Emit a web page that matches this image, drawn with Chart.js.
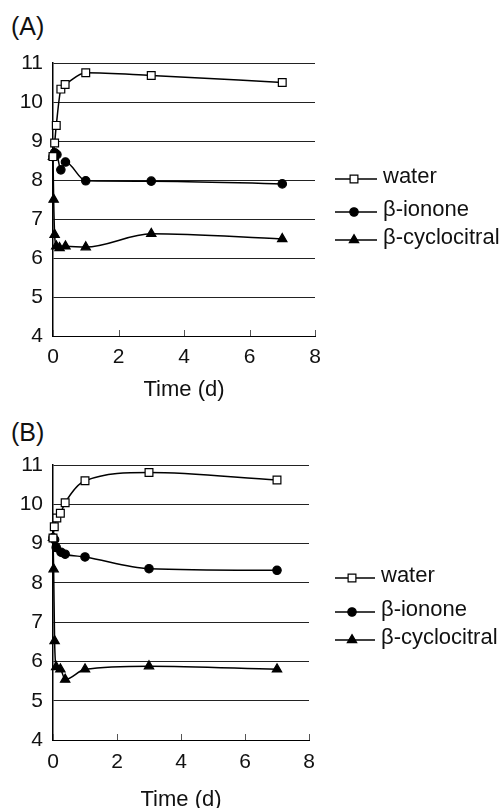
<!DOCTYPE html>
<html>
<head>
<meta charset="utf-8">
<script src="https://cdn.jsdelivr.net/npm/chart.js@4.4.0/dist/chart.umd.min.js"></script>
<style>
  body { margin: 0; background: #fff; width: 502px; height: 808px; position: relative; overflow: hidden;
         font-family: "Liberation Sans", Arial, sans-serif; }
  .panel { position: absolute; left: 11px; font-size: 25px; line-height: 25px; color: #111; }
  canvas { position: absolute; left: 0; }
</style>
</head>
<body>
<div class="panel" style="top:14px">(A)</div>
<div class="panel" style="top:420px">(B)</div>
<canvas id="chartA" width="502" height="405" style="top:0"></canvas>
<canvas id="chartB" width="502" height="408" style="top:400px"></canvas>
<script>
const seriesNames = ["water", "β-ionone", "β-cyclocitral"];
const xTicks = [0, 2, 4, 6, 8];
const yTicks = [4, 5, 6, 7, 8, 9, 10, 11];
const xTitle = "Time (d)";

// (A)
const timeA_water  = [0, 0.05, 0.1, 0.24, 0.37, 1, 3, 7];
const waterA       = [8.6, 8.95, 9.4, 10.33, 10.45, 10.75, 10.68, 10.5];
const timeA_ionone = [0, 0.05, 0.12, 0.24, 0.38, 1, 3, 7];
const iononeA      = [8.6, 8.7, 8.65, 8.26, 8.46, 7.98, 7.97, 7.9];
const timeA_cyclo  = [0, 0.02, 0.05, 0.1, 0.2, 0.38, 1, 3, 7];
const cycloA       = [8.6, 7.5, 6.6, 6.3, 6.26, 6.3, 6.28, 6.62, 6.49];

// (B)
const timeB_water  = [0, 0.04, 0.12, 0.23, 0.38, 1, 3, 7];
const waterB       = [9.14, 9.43, 9.65, 9.77, 10.04, 10.6, 10.81, 10.62];
const timeB_ionone = [0, 0.05, 0.1, 0.25, 0.38, 1, 3, 7];
const iononeB      = [9.15, 9.1, 8.9, 8.78, 8.73, 8.66, 8.36, 8.32];
const timeB_cyclo  = [0, 0.02, 0.05, 0.1, 0.23, 0.38, 1, 3, 7];
const cycloB       = [9.15, 8.35, 6.52, 5.86, 5.8, 5.54, 5.8, 5.88, 5.8];

const pts = (xs, ys) => xs.map((x, i) => ({ x: x, y: ys[i] }));

const markers = [
  { pointStyle: "rect", radius: 5.5, bg: "#fff" },
  { pointStyle: "circle", radius: 4.2, bg: "#000" },
  { pointStyle: "triangle", radius: 5.4, bg: "#000" }
];

// legend drawn as line + marker + text, to the right of the plot
const sideLegend = {
  id: "sideLegend",
  afterDraw(chart, args, opts) {
    const ctx = chart.ctx, area = chart.chartArea;
    ctx.save();
    chart.data.datasets.forEach((ds, i) => {
      const y = area.top + opts.rows[i];
      const x0 = opts.x;
      ctx.strokeStyle = "#000";
      ctx.lineWidth = 1.5;
      ctx.beginPath();
      ctx.moveTo(x0, y);
      ctx.lineTo(x0 + opts.len, y);
      ctx.stroke();
      ctx.fillStyle = markers[i].bg;
      ctx.lineWidth = 1.2;
      Chart.helpers.drawPoint(ctx, { pointStyle: markers[i].pointStyle, radius: markers[i].radius, rotation: 0, borderWidth: 1.2 }, x0 + opts.mark, y);
      ctx.fillStyle = "#111";
      ctx.font = '22px "Liberation Sans", Arial, sans-serif';
      ctx.textBaseline = "middle";
      ctx.textAlign = "left";
      ctx.fillText(ds.label, x0 + opts.len + 6, y - 2);
    });
    ctx.restore();
  }
};

// small tick marks pointing into the plot from the x axis
const innerTicks = {
  id: "innerTicks",
  afterDatasetsDraw(chart) {
    const ctx = chart.ctx, xs = chart.scales.x, b = chart.chartArea.bottom;
    ctx.save();
    ctx.strokeStyle = "#555";
    ctx.lineWidth = 1;
    xTicks.forEach(v => {
      const px = Math.round(xs.getPixelForValue(v)) + 0.5;
      ctx.beginPath();
      ctx.moveTo(px, b);
      ctx.lineTo(px, b - 6);
      ctx.stroke();
    });
    ctx.restore();
  }
};

function makeChart(id, data, lay) {
  const datasets = data.map((d, i) => ({
    label: seriesNames[i],
    data: d,
    clip: false,
    borderColor: "#000",
    borderWidth: 1.5,
    backgroundColor: markers[i].bg,
    pointStyle: markers[i].pointStyle,
    pointRadius: markers[i].radius,
    pointBorderWidth: 1.2,
    pointBorderColor: "#000",
    pointBackgroundColor: markers[i].bg,
    cubicInterpolationMode: "monotone",
    fill: false
  }));
  return new Chart(document.getElementById(id), {
    type: "line",
    data: { datasets: datasets },
    plugins: [innerTicks, sideLegend],
    options: {
      responsive: false,
      animation: false,
      events: [],
      layout: { padding: { top: lay.top, right: lay.right, left: 0, bottom: 0 } },
      plugins: {
        legend: { display: false },
        tooltip: { enabled: false },
        sideLegend: lay.legend
      },
      scales: {
        x: {
          type: "linear",
          min: 0, max: 8,
          afterBuildTicks: s => { s.ticks = xTicks.map(v => ({ value: v })); },
          afterFit: s => { s.height = lay.xHeight; },
          grid: { display: false, drawTicks: false },
          border: { display: true, color: "#000", width: 1 },
          ticks: { padding: lay.tickPad, color: "#111", font: { size: 21, family: '"Liberation Sans", Arial, sans-serif' } },
          title: {
            display: true, text: xTitle, color: "#111",
            font: { size: 22, family: '"Liberation Sans", Arial, sans-serif', lineHeight: lay.titleLH },
            padding: { top: 0, bottom: lay.titlePad }
          }
        },
        y: {
          min: 4, max: 11,
          afterBuildTicks: s => { s.ticks = yTicks.map(v => ({ value: v })); },
          afterFit: s => { s.width = lay.yWidth; },
          grid: { color: "#222", lineWidth: 1, drawTicks: false },
          border: { display: true, color: "#000", width: 1.5 },
          ticks: { padding: 10, color: "#111", font: { size: 21, family: '"Liberation Sans", Arial, sans-serif' } }
        }
      }
    }
  });
}

makeChart("chartA",
  [pts(timeA_water, waterA), pts(timeA_ionone, iononeA), pts(timeA_cyclo, cycloA)],
  { top: 63, right: 187, xHeight: 69, yWidth: 53, tickPad: 9, titleLH: 1, titlePad: 4,
    legend: { x: 335, len: 42, mark: 19, rows: [116, 149, 177] } });

makeChart("chartB",
  [pts(timeB_water, waterB), pts(timeB_ionone, iononeB), pts(timeB_cyclo, cycloB)],
  { top: 65, right: 193, xHeight: 68, yWidth: 53, tickPad: 10, titleLH: 0.76, titlePad: 0,
    legend: { x: 335, len: 40, mark: 17, rows: [113, 147, 175] } });
</script>
</body>
</html>
